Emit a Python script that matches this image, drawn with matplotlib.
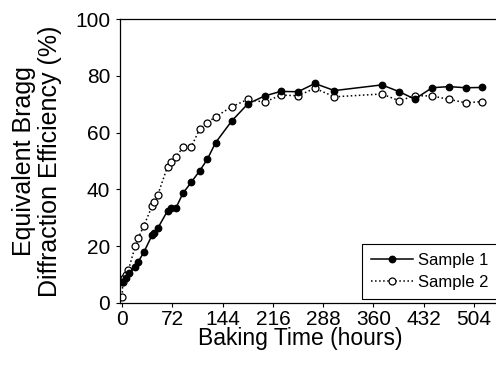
import matplotlib
matplotlib.use("Agg")
import matplotlib.pyplot as plt

# Baking time (hours) and equivalent Bragg diffraction efficiency (%)
hours_s1 = [0, 5, 10, 19, 23, 31, 43, 46, 51, 65, 70, 77, 87, 99, 111, 122,
            134, 157, 180, 204, 227, 252, 276, 304, 372, 397, 419, 444, 468,
            492, 515]
eff_s1 = [7.2, 8.8, 10.5, 12.8, 14.5, 17.8, 23.9, 24.7, 26.3, 32.4, 33.4,
          33.4, 38.6, 42.5, 46.5, 50.6, 56.5, 64.1, 70.1, 72.9, 74.5, 74.4,
          77.3, 74.8, 76.8, 74.4, 71.8, 75.8, 76.2, 75.8, 75.9]

hours_s2 = [0, 1, 3, 6, 9, 19, 23, 31, 43, 46, 51, 65, 70, 77, 87, 99, 111,
            122, 134, 157, 180, 204, 227, 252, 276, 304, 372, 397, 419, 444,
            468, 492, 515]
eff_s2 = [2.2, 7.5, 8.7, 9.9, 11.6, 20.2, 22.8, 27.1, 34.2, 35.7, 38.0, 48.0,
          49.6, 51.3, 54.8, 55.0, 61.2, 63.5, 65.6, 69.1, 71.7, 70.7, 73.2,
          73.0, 75.6, 72.6, 73.6, 71.2, 73.0, 72.9, 71.7, 70.5, 70.9]

x_ticks = [0, 72, 144, 216, 288, 360, 432, 504]
y_ticks = [0, 20, 40, 60, 80, 100]

plt.rcParams["font.family"] = ["Liberation Sans", "DejaVu Sans"]

fig = plt.figure(figsize=(4.96, 3.81), dpi=100)
ax = fig.add_axes([0.242, 0.205, 0.77, 0.745])

ax.plot(hours_s1, eff_s1, "-o", color="black", lw=1.1, ms=4.6,
        mfc="black", mec="black", label="Sample 1", zorder=3)
ax.plot(hours_s2, eff_s2, ":o", color="black", lw=1.1, ms=5.0,
        mfc="white", mec="black", mew=0.9, label="Sample 2", zorder=2)

ax.set_xlim(-3, 544)
ax.set_ylim(0, 100)
ax.set_xticks(x_ticks)
ax.set_yticks(y_ticks)
ax.tick_params(direction="out", length=3, width=0.8, labelsize=15)
ax.tick_params(axis="x", pad=2)
ax.tick_params(axis="y", pad=4)
for s in ax.spines.values():
    s.set_linewidth(0.9)

ax.set_xlabel("Baking Time (hours)", fontsize=16.5)
ax.xaxis.set_label_coords(0.471, -0.085)
ax.set_ylabel("Equivalent Bragg\nDiffraction Efficiency (%)", fontsize=18,
              linespacing=1.1)
ax.yaxis.set_label_coords(-0.152, 0.5)

leg = ax.legend(loc="lower right", bbox_to_anchor=(0.99, 0.014), fontsize=12,
                fancybox=False, edgecolor="black", framealpha=1,
                handlelength=2.5, borderpad=0.55, labelspacing=0.4,
                handletextpad=0.35, borderaxespad=0.0)
leg.get_frame().set_linewidth(0.8)

fig.savefig("out.png", dpi=100)
